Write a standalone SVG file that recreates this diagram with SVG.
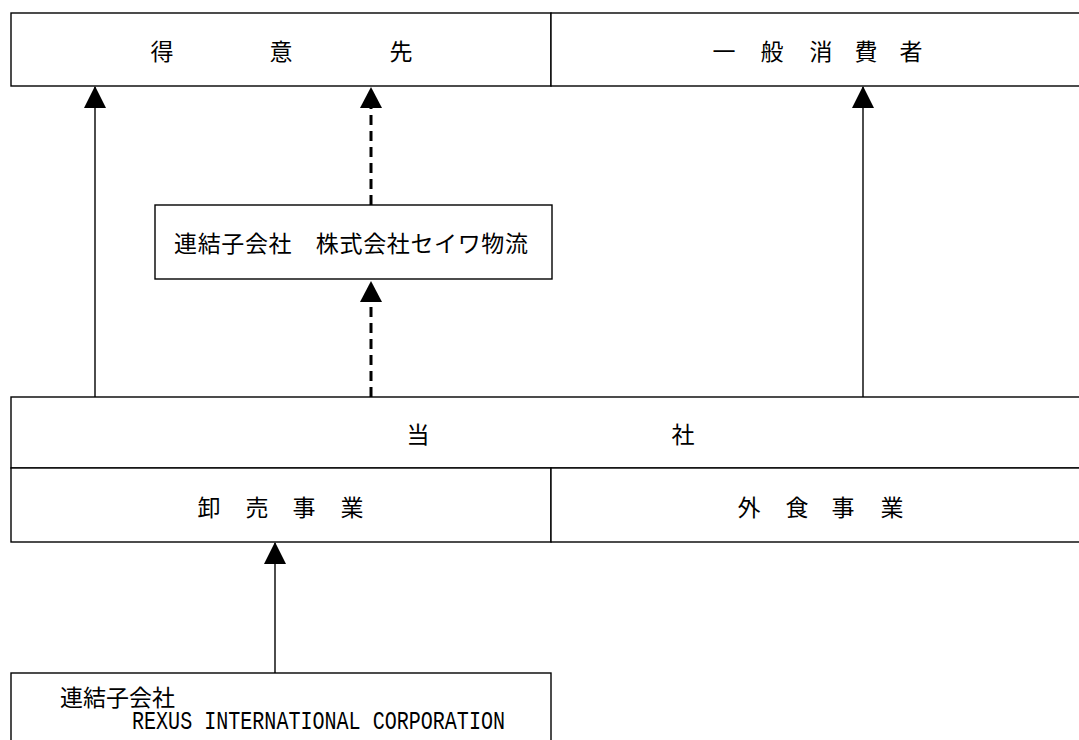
<svg xmlns="http://www.w3.org/2000/svg" width="1079" height="740" viewBox="0 0 1079 740">
<style>
.box{fill:#fff;stroke:#000;stroke-width:1.4}
.jp{font-family:"Noto Sans CJK JP","Noto Sans CJK SC",sans-serif;font-size:23px;fill:#000}
.mono{font-family:"Liberation Mono",monospace;font-size:26px;fill:#000}
.solid{stroke:#000;stroke-width:1.4;fill:none}
.dash{stroke:#000;stroke-width:3;stroke-dasharray:10 6;fill:none}
</style>
<defs>
<marker id="ah" markerUnits="userSpaceOnUse" markerWidth="22" markerHeight="22" refX="21" refY="11" orient="auto" viewBox="0 0 22 22">
<path d="M0,0 L22,11 L0,22 Z" fill="#000"/>
</marker>
</defs>
<rect width="1079" height="740" fill="#fff"/>
<g id="tokuisaki">
<rect class="box" x="11" y="13" width="540" height="73"/>
<text class="jp" text-anchor="middle" x="162 281 401" y="60">得意先</text>
</g>
<g id="ippan">
<rect class="box" x="551" y="13" width="540" height="73"/>
<text class="jp" text-anchor="middle" x="724 772 821 866 911" y="60">一般消費者</text>
</g>
<g id="seiwa">
<rect class="box" x="155" y="205" width="397" height="74"/>
<text class="jp" x="174" y="251.5" textLength="354" lengthAdjust="spacing">連結子会社　株式会社セイワ物流</text>
</g>
<g id="tousha">
<rect class="box" x="11" y="397" width="1080" height="71"/>
<text class="jp" text-anchor="middle" x="418 683" y="443">当社</text>
</g>
<g id="oroshi">
<rect class="box" x="11" y="468" width="540" height="74"/>
<text class="jp" text-anchor="middle" x="209 257 304 352" y="515.5">卸売事業</text>
</g>
<g id="gaishoku">
<rect class="box" x="551" y="468" width="540" height="74"/>
<text class="jp" text-anchor="middle" x="749 797 843 892" y="515.5">外食事業</text>
</g>
<g id="rexus">
<rect class="box" x="11" y="673" width="540" height="80"/>
<text class="jp" x="60" y="706">連結子会社</text>
<text class="mono" x="132" y="729" textLength="373" lengthAdjust="spacingAndGlyphs">REXUS INTERNATIONAL CORPORATION</text>
</g>
<g id="connectors">
<line class="solid" x1="95" y1="397" x2="95" y2="87" marker-end="url(#ah)"/>
<line class="solid" x1="863" y1="397" x2="863" y2="87" marker-end="url(#ah)"/>
<line class="dash" x1="371" y1="397" x2="371" y2="301"/>
<path d="M371,281 L382,302 L360,302 Z" fill="#000"/>
<line class="dash" x1="371" y1="205" x2="371" y2="107"/>
<path d="M371,87 L382,108 L360,108 Z" fill="#000"/>
<line class="solid" x1="275" y1="673" x2="275" y2="543" marker-end="url(#ah)"/>
</g>
</svg>
